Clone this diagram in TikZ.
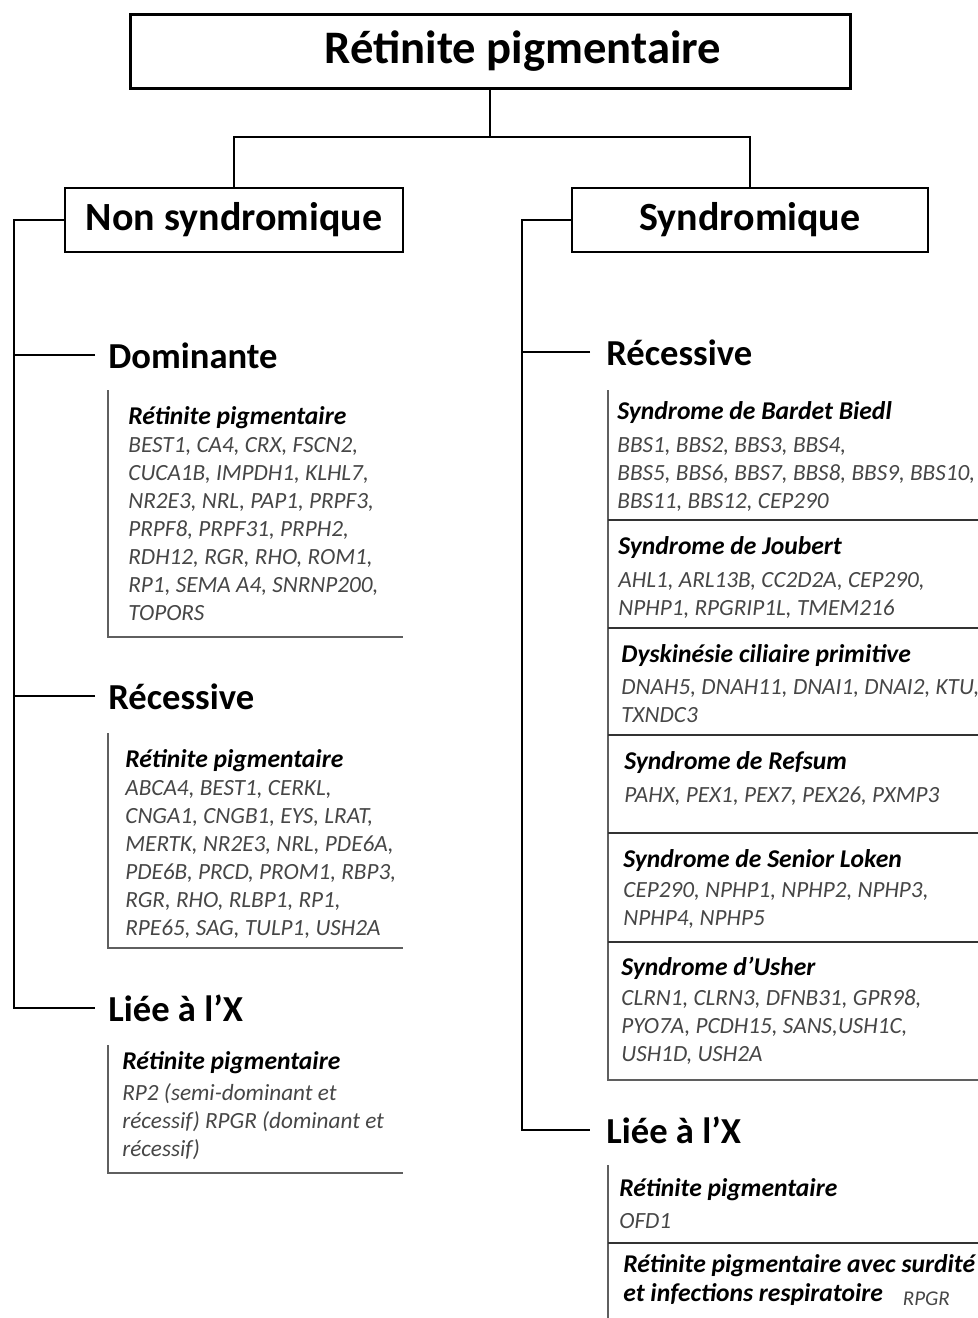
\documentclass[tikz,border=0pt]{standalone}
\usepackage{fontspec}
\setmainfont{Carlito}
\usetikzlibrary{positioning}
\definecolor{genegray}{RGB}{70,70,70}
\definecolor{linegray}{RGB}{95,95,95}

\tikzset{
  topbox/.style = {draw, line width=1.5pt, minimum width=360pt, minimum height=37pt,
    font=\bfseries\fontsize{23.3}{26}\selectfont},
  typebox/.style = {draw, line width=0.7pt, minimum height=32pt,
    font=\bfseries\fontsize{20}{24}\selectfont},
  modehead/.style = {anchor=base west, inner sep=0pt, font=\bfseries\fontsize{18.3}{21}\selectfont},
  genelist/.style = {anchor=base west, inner sep=0pt, text=genegray,
    font=\itshape\fontsize{11.6}{14}\selectfont},
  tree/.style = {line width=1pt},
  frame/.style = {draw=linegray, line width=0.8pt},
  sepline/.style = {draw=black!80, line width=0.9pt},
}
\newcommand{\gtitle}[1]{\textcolor{black}{\bfseries\fontsize{12.8}{14}\selectfont #1}}
\newcommand{\genes}[1]{\begin{tabular}[t]{@{}l@{}}#1\end{tabular}}

\begin{document}
\begin{tikzpicture}[x=0.5pt, y=-0.5pt]
\useasboundingbox (0,0) rectangle (978,1318);

% top of the tree
\node[topbox] (rp) at (490,51) {\hspace*{33pt}Rétinite pigmentaire};
\node[typebox, minimum width=169pt] (nonsyn) at (234,220) {Non syndromique};
\node[typebox, minimum width=178pt] (syn) at (750,220) {Syndromique};
\coordinate (split) at (490,137);
\draw[tree] (rp) -- (split) -| (nonsyn);
\draw[tree] (split) -| (syn);

% non syndromique
\node[modehead] (dom) at (108,368) {Dominante};
\node[modehead] (recl) at (108,709) {Récessive};
\node[modehead] (xl) at (108,1021) {Liée à l’X};
\draw[tree] (nonsyn.west) -- (14,220) |- ([shift={(-13,-13)}]xl.base west);
\foreach \h in {dom,recl}
  \draw[tree] ([shift={(-13,-13)}]\h.base west) -- +(-81,0);

\draw[frame] (108,390) |- (403,637);
\draw[frame] (108,733) |- (403,948);
\draw[frame] (108,1045) |- (403,1173);

\node[genelist] (domrp) at (128,424) {\genes{\gtitle{Rétinite pigmentaire}\\
  BEST1, CA4, CRX, FSCN2,\\CUCA1B, IMPDH1, KLHL7,\\NR2E3, NRL, PAP1, PRPF3,\\
  PRPF8, PRPF31, PRPH2,\\RDH12, RGR, RHO, ROM1,\\RP1, SEMA A4, SNRNP200,\\TOPORS}};
\node[genelist] (reclrp) at (125,767) {\genes{\gtitle{Rétinite pigmentaire}\\
  ABCA4, BEST1, CERKL,\\CNGA1, CNGB1, EYS, LRAT,\\MERTK, NR2E3, NRL, PDE6A,\\
  PDE6B, PRCD, PROM1, RBP3,\\RGR, RHO, RLBP1, RP1,\\RPE65, SAG, TULP1, USH2A}};
\node[genelist] (xlrp) at (122,1069) {\genes{\gtitle{Rétinite pigmentaire}\\[1.5pt]
  RP2 (semi-dominant et\\récessif) RPGR (dominant et\\récessif)}};

% syndromique
\node[modehead] (recr) at (606,365) {Récessive};
\node[modehead] (xr) at (606,1143) {Liée à l’X};
\draw[tree] (syn.west) -- (522,220) |- ([shift={(-16,-13)}]xr.base west);
\draw[tree] ([shift={(-16,-13)}]recr.base west) -- +(-68,0);

\draw[frame] (608,390) |- (978,1080);
\foreach \y in {520,628,735,833,942}
  \draw[sepline] (608,\y) -- (978,\y);
\draw[frame] (608,1165) -- (608,1318);
\draw[sepline] (608,1243) -- (978,1243);

\node[genelist] (bbs) at (617,419) {\genes{\gtitle{Syndrome de Bardet Biedl}\\[2.5pt]
  BBS1, BBS2, BBS3, BBS4,\\BBS5, BBS6, BBS7, BBS8, BBS9, BBS10,\\BBS11, BBS12, CEP290}};
\node[genelist] (joubert) at (618,554) {\genes{\gtitle{Syndrome de Joubert}\\[2.5pt]
  AHL1, ARL13B, CC2D2A, CEP290,\\NPHP1, RPGRIP1L, TMEM216}};
\node[genelist] (dcp) at (621,662) {\genes{\gtitle{Dyskinésie ciliaire primitive}\\[2pt]
  DNAH5, DNAH11, DNAI1, DNAI2, KTU,\\TXNDC3}};
\node[genelist] (refsum) at (624,769) {\genes{\gtitle{Syndrome de Refsum}\\[2.5pt]
  PAHX, PEX1, PEX7, PEX26, PXMP3}};
\node[genelist] (loken) at (623,867) {\genes{\gtitle{Syndrome de Senior Loken}\\[1pt]
  CEP290, NPHP1, NPHP2, NPHP3,\\NPHP4, NPHP5}};
\node[genelist] (usher) at (621,975) {\genes{\gtitle{Syndrome d’Usher}\\[1pt]
  CLRN1, CLRN3, DFNB31, GPR98,\\PYO7A, PCDH15, SANS,USH1C,\\USH1D, USH2A}};
\node[genelist] (xrrp) at (619,1196) {\genes{\gtitle{Rétinite pigmentaire}\\[2pt]OFD1}};
\node[genelist] (surdite) at (623,1272) {\genes{\gtitle{Rétinite pigmentaire avec surdité}\\[0.5pt]
  \gtitle{et infections respiratoire}\hspace{10pt}{\fontsize{10.5}{12}\selectfont\raisebox{-2pt}{RPGR}}}};
\end{tikzpicture}
\end{document}
